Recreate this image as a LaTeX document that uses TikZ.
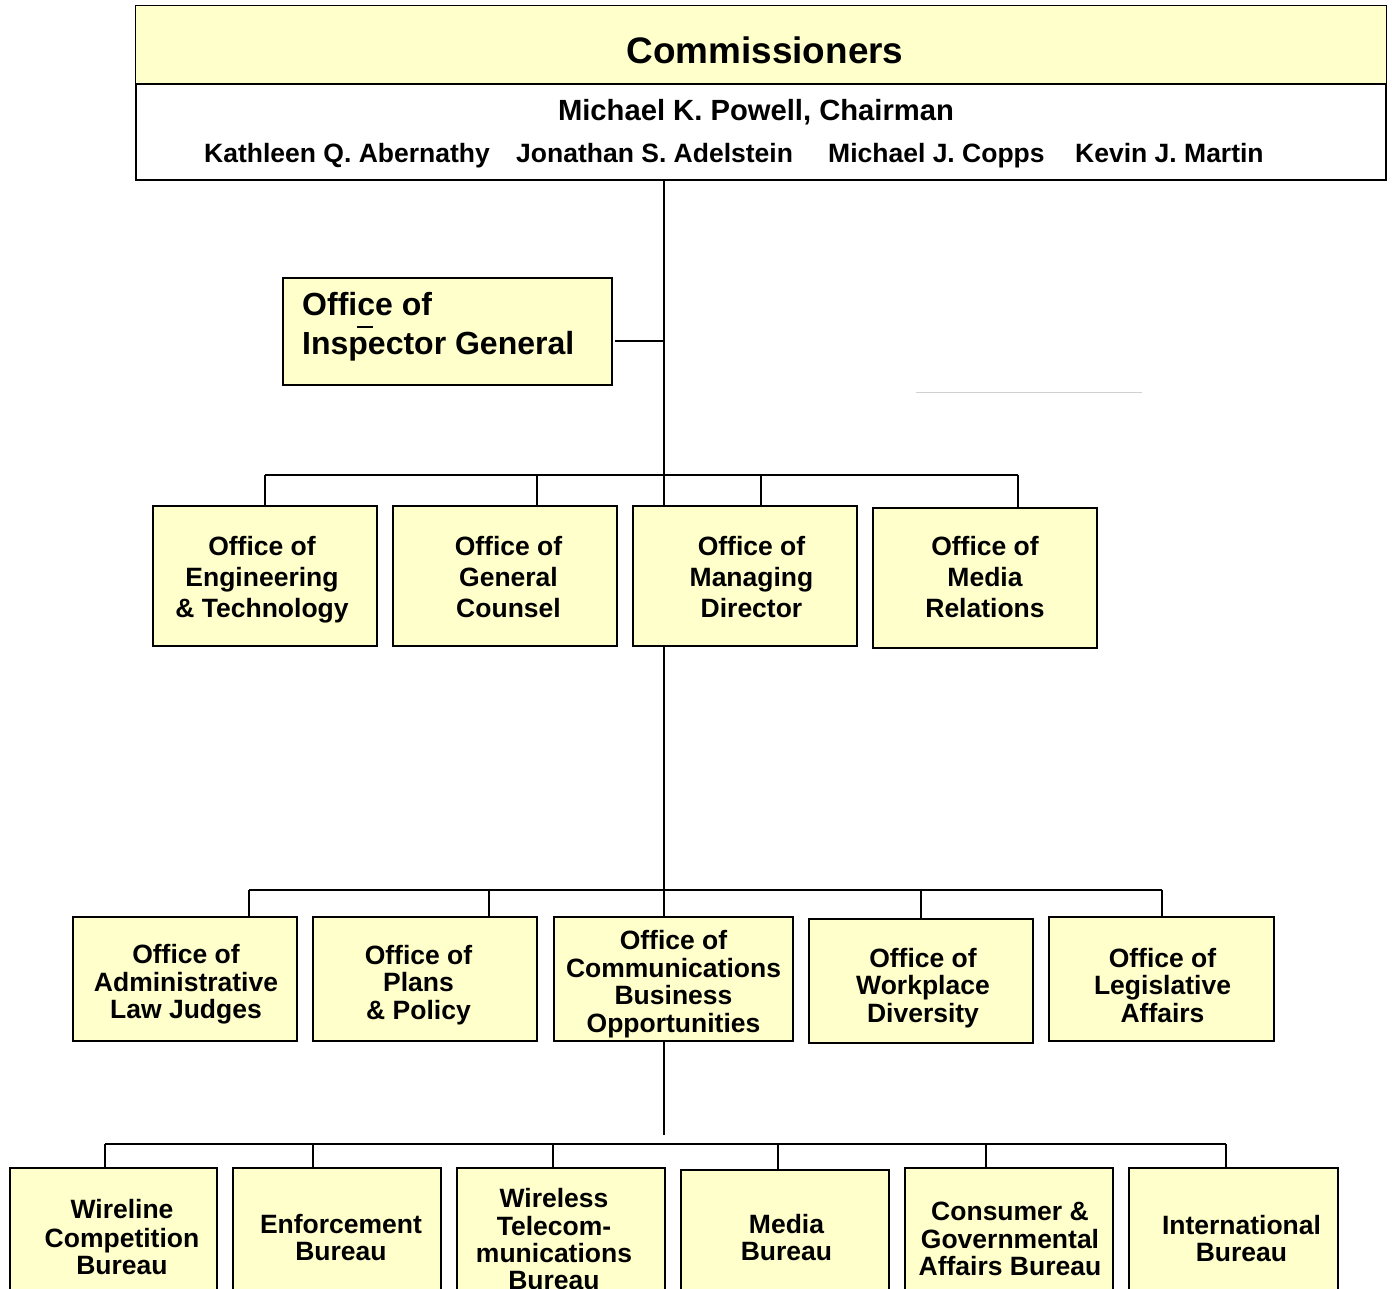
\documentclass[tikz,border=0pt]{standalone}
\usepackage{fontspec}
\setmainfont{Liberation Sans}
\definecolor{boxyellow}{HTML}{FFFFCC}
\tikzset{
  unit/.style={draw=black, line width=1.8pt, fill=boxyellow, inner sep=0pt},
  conn/.style={line width=1.8pt, draw=black},
  lblr/.style={font=\bfseries\fontsize{26.5}{27.5}\selectfont, align=center, inner sep=0pt},
  lbltwo/.style={font=\bfseries\fontsize{26.5}{31}\selectfont, align=center, inner sep=0pt},
  lblfour/.style={font=\bfseries\fontsize{26.5}{27}\selectfont, align=center, inner sep=0pt},
  names/.style={font=\bfseries\fontsize{26.5}{30}\selectfont, inner sep=0pt, anchor=base west},
}
\begin{document}
\begin{tikzpicture}[x=1pt,y=-1pt]
\clip (0,0) rectangle (1392,1289);
\fill[white] (0,0) rectangle (1392,1289);

% Commissioners
\node[draw=black, line width=1.8pt, fill=white, inner sep=0pt, minimum width=1250pt, minimum height=174pt] (comm) at (761,93) {};
\fill[boxyellow] ([shift={(0.9pt,-0.9pt)}]comm.north west) rectangle ([xshift=-0.9pt]comm.east |- 0,84);
\draw[line width=1.8pt] (comm.west |- 0,84) -- (comm.east |- 0,84);
\node[anchor=base, inner sep=0pt, font=\bfseries\fontsize{36.9}{40}\selectfont] (commT) at (765,64) {Commissioners};
\node[anchor=base, inner sep=0pt, font=\bfseries\fontsize{29.2}{32}\selectfont] (chair) at (756,120.5) {Michael K. Powell, Chairman};
\node[names] (n1) at (204,162.5) {Kathleen Q. Abernathy};
\node[names] (n2) at (516,162.5) {Jonathan S. Adelstein};
\node[names] (n3) at (828,162.5) {Michael J. Copps};
\node[names] (n4) at (1075,162.5) {Kevin J. Martin};

% Inspector General
\node[unit, minimum width=329pt, minimum height=107pt] (ig) at (447.5,331.5) {};
\node[anchor=north west, inner sep=0pt, align=left, font=\bfseries\fontsize{32}{39}\selectfont] (igT) at (302,287.7) {\strut Office of\\Inspector General\strut};
\draw[line width=1.8pt] (357,327) -- (373,327);
\draw[line width=1pt, draw=black!18] (916,392) -- (1142,392);

% Row 2
\node[unit, minimum width=224pt, minimum height=140pt] (eng) at (265,576) {};
\node[unit, minimum width=224pt, minimum height=140pt] (gc) at (505,576) {};
\node[unit, minimum width=224pt, minimum height=140pt] (md) at (745,576) {};
\node[unit, minimum width=224pt, minimum height=140pt] (mr) at (985,578) {};
\node[lbltwo] (engT) at (262,580.3) {\strut Office of\\Engineering\\\& Technology\strut};
\node[lbltwo] (gcT) at (508.5,580.3) {\strut Office of\\General\\Counsel\strut};
\node[lbltwo] (mdT) at (751.5,580.3) {\strut Office of\\Managing\\Director\strut};
\node[lbltwo] (mrT) at (985,580.5) {\strut Office of\\Media\\Relations\strut};

% Row 3
\node[unit, minimum width=224pt, minimum height=124pt] (alj) at (185,979) {};
\node[unit, minimum width=224pt, minimum height=124pt] (pp) at (425,979) {};
\node[unit, minimum width=239pt, minimum height=124pt] (cbo) at (673.5,979) {};
\node[unit, minimum width=224pt, minimum height=124pt] (wd) at (921,981) {};
\node[unit, minimum width=225pt, minimum height=124pt] (la) at (1161.5,979) {};
\node[lblr] (aljT) at (186,985.5) {\strut Office of\\Administrative\\Law Judges\strut};
\node[lblr] (ppT) at (418.5,986) {\strut Office of\\Plans\\\& Policy\strut};
\node[lblr, font=\bfseries\fontsize{26.5}{27.6}\selectfont] (cboT) at (673.5,985.5) {\strut Office of\\Communications\\Business\\Opportunities\strut};
\node[lblr] (wdT) at (923,989) {\strut Office of\\Workplace\\Diversity\strut};
\node[lblr] (laT) at (1162.5,989) {\strut Office of\\Legislative\\Affairs\strut};

% Row 4
\node[unit, minimum width=207pt, minimum height=138pt] (wcb) at (113.5,1237) {};
\node[unit, minimum width=208pt, minimum height=138pt] (eb) at (337,1237) {};
\node[unit, minimum width=208pt, minimum height=138pt] (wtb) at (561,1237) {};
\node[unit, minimum width=208pt, minimum height=138pt] (mb) at (785,1239) {};
\node[unit, minimum width=208pt, minimum height=138pt] (cgab) at (1009,1237) {};
\node[unit, minimum width=209pt, minimum height=138pt] (ib) at (1233.5,1237) {};
\node[lblfour] (wcbT) at (122,1241) {\strut Wireline\\Competition\\Bureau\strut};
\node[lblfour] (ebT) at (341,1241) {\strut Enforcement\\Bureau\strut};
\node[lblfour] (wtbT) at (554,1242.6) {\strut Wireless\\Telecom-\\munications\\Bureau\strut};
\node[lblfour] (mbT) at (786.5,1241) {\strut Media\\Bureau\strut};
\node[lblfour] (cgabT) at (1010,1242.6) {\strut Consumer \&\\Governmental\\Affairs Bureau\strut};
\node[lblfour] (ibT) at (1241.5,1242.6) {\strut International\\Bureau\strut};

% Connectors
\coordinate (tk) at (664,0);
\draw[conn] (comm.south -| tk) -- (md.north -| tk);
\coordinate (igc) at (615,341);
\draw[conn] (igc) -- (igc -| tk);

\coordinate (b2l) at (265,475);
\coordinate (b2b) at (537,475);
\coordinate (b2c) at (761,475);
\coordinate (b2r) at (1018,475);
\draw[conn] (b2l) -- (b2r);
\draw[conn] (b2l) -- (eng.north -| b2l);
\draw[conn] (b2b) -- (gc.north -| b2b);
\draw[conn] (b2c) -- (md.north -| b2c);
\draw[conn] (b2r) -- (mr.north -| b2r);

\draw[conn] (md.south -| tk) -- (cbo.north -| tk);
\coordinate (b3l) at (249,890);
\coordinate (b3b) at (489,890);
\coordinate (b3d) at (921,890);
\coordinate (b3r) at (1162,890);
\draw[conn] (b3l) -- (b3r);
\draw[conn] (b3l) -- (alj.north -| b3l);
\draw[conn] (b3b) -- (pp.north -| b3b);
\draw[conn] (b3d) -- (wd.north -| b3d);
\draw[conn] (b3r) -- (la.north -| b3r);

\coordinate (t3) at (664,1135);
\draw[conn] (cbo.south -| tk) -- (t3);
\coordinate (b4a) at (105,1144);
\coordinate (b4b) at (313,1144);
\coordinate (b4c) at (553,1144);
\coordinate (b4d) at (778,1144);
\coordinate (b4e) at (986,1144);
\coordinate (b4f) at (1226,1144);
\draw[conn] (b4a) -- (b4f);
\draw[conn] (b4a) -- (wcb.north -| b4a);
\draw[conn] (b4b) -- (eb.north -| b4b);
\draw[conn] (b4c) -- (wtb.north -| b4c);
\draw[conn] (b4d) -- (mb.north -| b4d);
\draw[conn] (b4e) -- (cgab.north -| b4e);
\draw[conn] (b4f) -- (ib.north -| b4f);
\end{tikzpicture}
\end{document}
